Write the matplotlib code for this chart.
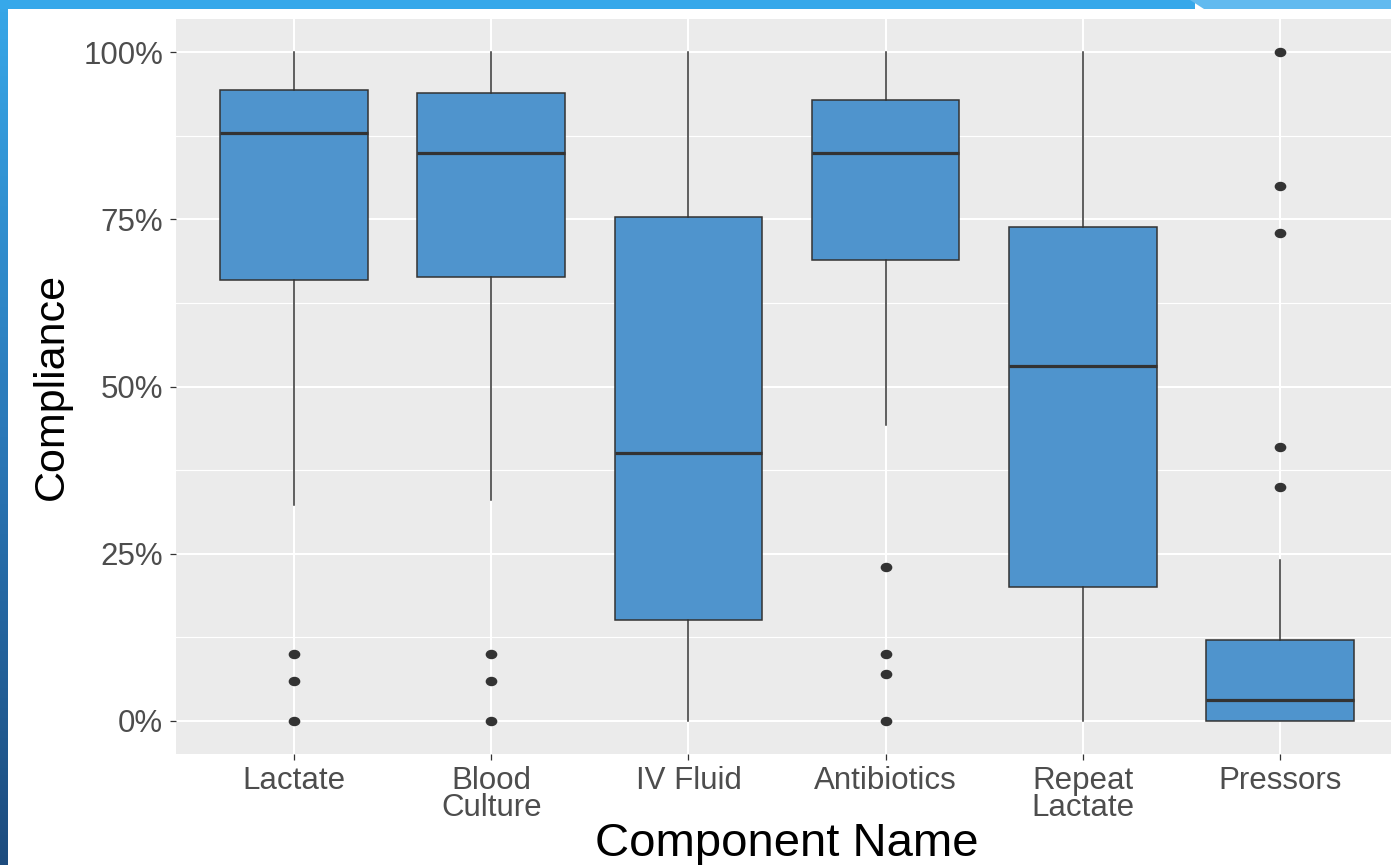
import numpy as np
import matplotlib
matplotlib.use("Agg")
import matplotlib.pyplot as plt
from matplotlib.path import Path
from matplotlib.patches import Polygon, Rectangle
from matplotlib.ticker import FixedLocator, PercentFormatter

# Sepsis bundle components and their compliance summaries (fractions)
components = ["Lactate", "Blood\nCulture", "IV Fluid", "Antibiotics", "Repeat\nLactate", "Pressors"]
q1 = [0.659, 0.664, 0.150, 0.690, 0.200, 0.000]
medians = [0.880, 0.850, 0.401, 0.850, 0.530, 0.031]
q3 = [0.944, 0.940, 0.754, 0.929, 0.739, 0.120]
whisker_low = [0.322, 0.330, 0.000, 0.442, 0.000, 0.000]
whisker_high = [1.000, 1.000, 1.000, 1.000, 1.000, 0.241]
outliers = [
    [0.10, 0.06, 0.00],
    [0.10, 0.06, 0.00],
    [],
    [0.23, 0.10, 0.07, 0.00],
    [],
    [1.00, 0.80, 0.73, 0.41, 0.35],
]
y_ticks = [0.0, 0.25, 0.50, 0.75, 1.00]
y_minor = [0.125, 0.375, 0.625, 0.875]

plt.rcParams["font.family"] = ["Liberation Sans", "DejaVu Sans"]

W, H = 1391, 865
fig = plt.figure(figsize=(W / 100, H / 100), dpi=100)
fig.patch.set_facecolor("white")

# Slide decoration: top band and left gradient bar
fig.add_artist(Rectangle((0, 1 - 9 / H), 1195 / W, 9 / H, transform=fig.transFigure,
                         facecolor="#36A8EA", edgecolor="none", zorder=5))
fig.add_artist(Polygon([(1190 / W, 1), (1, 1), (1, 1 - 9 / H), (1204 / W, 1 - 9 / H)],
                       closed=True, transform=fig.transFigure,
                       facecolor="#62BAEF", edgecolor="none", zorder=5))
bar_ax = fig.add_axes([0, 0, 8 / W, 1 - 9 / H])
grad = np.linspace(0, 1, 256).reshape(-1, 1)
cmap = matplotlib.colors.LinearSegmentedColormap.from_list("bar", ["#1D4C7E", "#2A78B8", "#37A6E7"])
bar_ax.imshow(grad, aspect="auto", cmap=cmap, origin="lower", extent=[0, 1, 0, 1])
bar_ax.set_axis_off()

# Plot panel
left, right, top, bottom = 176, 1398, 19, 754
ax = fig.add_axes([left / W, 1 - bottom / H, (right - left) / W, (bottom - top) / H])
ax.set_facecolor("#EBEBEB")
for s in ax.spines.values():
    s.set_visible(False)

stats = []
for i, name in enumerate(components):
    stats.append(dict(label=name, q1=q1[i], med=medians[i], q3=q3[i],
                      whislo=whisker_low[i], whishi=whisker_high[i],
                      fliers=np.array(outliers[i])))

ellipse = Path(Path.unit_circle().vertices * np.array([1.0, 0.78]), Path.unit_circle().codes)

positions = np.arange(len(components))
ax.bxp(stats, positions=positions, widths=0.75, patch_artist=True, showcaps=False,
       boxprops=dict(facecolor="#4F94CD", edgecolor="#333333", linewidth=1.1),
       medianprops=dict(color="#333333", linewidth=2.3, solid_capstyle="butt"),
       whiskerprops=dict(color="#333333", linewidth=1.1),
       flierprops=dict(marker=ellipse, markersize=7.4, markerfacecolor="#333333",
                       markeredgecolor="#333333", linestyle="none"),
       zorder=3)

ax.set_xlim(-0.6, len(components) - 1 + 0.6)
ax.set_ylim(-0.05, 1.05)

ax.yaxis.set_major_locator(FixedLocator(y_ticks))
ax.yaxis.set_minor_locator(FixedLocator(y_minor))
ax.yaxis.set_major_formatter(PercentFormatter(xmax=1, decimals=0))
ax.set_xticks(positions)
ax.set_xticklabels(components, linespacing=0.9)

ax.grid(True, which="major", color="white", linewidth=1.5, zorder=0)
ax.grid(True, which="minor", axis="y", color="white", linewidth=0.8, zorder=0)
ax.set_axisbelow(True)

ax.tick_params(axis="both", which="major", length=4.3, width=0.9, color="#333333",
               labelcolor="#4D4D4D", labelsize=22.5)
ax.tick_params(axis="x", pad=4)
ax.tick_params(axis="y", pad=5)
ax.tick_params(which="minor", length=0)

ax.set_xlabel("Component Name", fontsize=34, color="black")
ax.set_ylabel("Compliance", fontsize=31, color="black")
ax.xaxis.set_label_coords(0.5, (bottom - 822) / (bottom - top))
ax.yaxis.set_label_coords((72 - left) / (right - left), 0.5)

fig.savefig("out.png", dpi=100, facecolor="white")
